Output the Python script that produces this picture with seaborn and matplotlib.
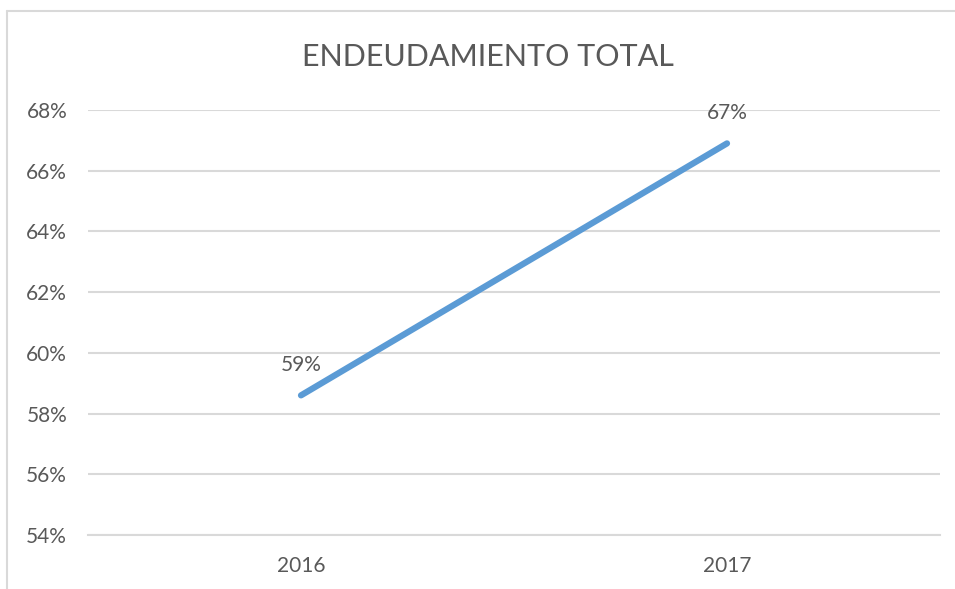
import numpy as np
import matplotlib
matplotlib.use("Agg")
import matplotlib.pyplot as plt
from matplotlib.lines import Line2D
import pandas as pd
import seaborn as sns

# ====================================================================
#   DATA
# ====================================================================
years = ["2016", "2017"]
debt_ratio = [58.6, 66.9]
point_labels = ["59%", "67%"]
y_ticks = [54, 56, 58, 60, 62, 64, 66, 68]

df = pd.DataFrame({"year": years, "ratio": debt_ratio})

# ====================================================================
#   PLOT
# ====================================================================
sns.set_style("white")
plt.rcParams["font.family"] = ["Lato", "DejaVu Sans"]

text_grey = "#595959"
grid_grey = "#d9d9d9"
blue = "#5b9bd5"

fig = plt.figure(figsize=(9.55, 5.89), dpi=100)
ax = fig.add_axes([88 / 955, 1 - 535 / 589, (940 - 88) / 955, (535 - 110) / 589])

sns.lineplot(data=df, x="year", y="ratio", ax=ax, color=blue,
             linewidth=4.5, solid_capstyle="round", sort=False)

ax.set_xlim(-0.5, 1.5)
ax.set_ylim(54, 68)
ax.set_yticks(y_ticks)
ax.set_yticklabels([f"{t}%" for t in y_ticks])
ax.yaxis.grid(True, color=grid_grey, linewidth=1.5)
ax.set_axisbelow(True)
for s in ax.spines.values():
    s.set_visible(False)
ax.spines["bottom"].set_visible(True)
ax.spines["bottom"].set_color(grid_grey)
ax.spines["bottom"].set_linewidth(1.5)

ax.tick_params(axis="y", length=0, pad=15, labelsize=15, labelcolor=text_grey)
ax.tick_params(axis="x", length=0, pad=15, labelsize=15, labelcolor=text_grey)
ax.set_xlabel("")
ax.set_ylabel("")

for i, (v, lab) in enumerate(zip(debt_ratio, point_labels)):
    ax.annotate(lab, (i, v), xytext=(0, 22), textcoords="offset points",
                ha="center", va="center", fontsize=15, color=text_grey,
                annotation_clip=False)

fig.text(488 / 955, 1 - 57 / 589, "ENDEUDAMIENTO TOTAL", ha="center", va="center",
         fontsize=22, color=text_grey)

# chart frame (top and left edges visible in the crop)
fig.add_artist(Line2D([7 / 955, 1], [1 - 11 / 589, 1 - 11 / 589],
                      transform=fig.transFigure, color=grid_grey, linewidth=1.5))
fig.add_artist(Line2D([7 / 955, 7 / 955], [0, 1 - 11 / 589],
                      transform=fig.transFigure, color=grid_grey, linewidth=1.5))

fig.savefig("out.png", dpi=100)
